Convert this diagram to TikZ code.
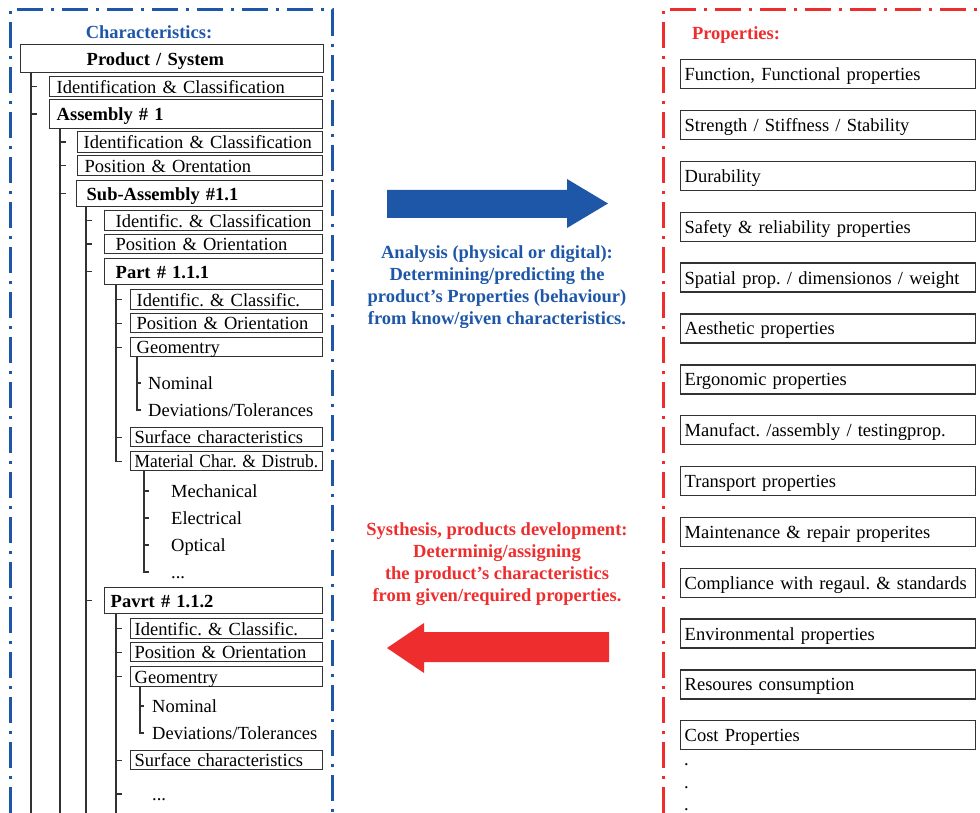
\documentclass[tikz,border=0pt]{standalone}
\usepackage{fontspec}
\setmainfont{Liberation Serif}
\usetikzlibrary{positioning}
\definecolor{charblue}{RGB}{31,87,168}
\definecolor{propred}{RGB}{238,46,46}
\definecolor{linegray}{RGB}{50,50,50}
\tikzset{
    % Frames
    frame/.style={line width=3pt, dash pattern=on 26pt off 8pt on 3pt off 8pt},
    %
    % Boxes
    one line/.style={execute at begin node=\hbox\bgroup, execute at end node=\egroup},
    box/.style={draw=linegray, line width=1.4pt, anchor=north west, align=left, one line,
        inner xsep=7pt, inner ysep=0pt, text height=15pt, text depth=2pt},
    char box/.style={box, text width=#1},
    main box/.style={char box=#1, font=\bfseries},
    prop box/.style={box, inner xsep=4pt, text width=287pt, minimum height=29pt},
    %
    % Arrows and captions
    caption/.style={align=center, font=\bfseries, text=#1}
}

\begin{document}
\fontsize{18.5pt}{22pt}\selectfont\frenchspacing
\begin{tikzpicture}
        [
            x=1pt, y=-1pt,
            leaf/.style={anchor=west, inner sep=0pt, text height=15pt, text depth=2pt},
            tree line/.style={linegray, line width=1.4pt}
        ]
        \useasboundingbox (0,0) rectangle (980,813);
        \coordinate (bottom) at (0,813);
        % frames
        \draw[frame, charblue] (10,813) -- (10,10) -- (332,10) -- (332,813);
        \draw[frame, propred] (663,813) -- (663,10) -- (980,10);
        \node[anchor=base, font=\bfseries, text=charblue] (char title) at (149,39) {Characteristics:};
        \node[anchor=base, font=\bfseries, text=propred] (prop title) at (736,40) {Properties:};
        %
        % characteristics tree
        \node[main box=289pt, minimum height=28pt] (ps) at (20,44) {\hspace*{59pt}Product / System};
        \node[char box=259pt, minimum height=20pt] (idc1) at (49,76) {Identification \& Classification};
        \node[main box=259pt, minimum height=29pt] (asm) at (49,99) {Assembly \# 1};
        \node[char box=233pt, inner xsep=6pt, minimum height=21pt] (idc2) at (77,131) {Identification \& Classification};
        \node[char box=231pt, minimum height=20pt] (pos1) at (77,155) {Position \& Orentation};
        \node[main box=226pt, inner xsep=10pt, minimum height=26pt] (sub) at (76,180) {Sub-Assembly \#1.1};
        \node[char box=196pt, inner xsep=11pt, minimum height=20pt] (idc3) at (104,210) {Identific. \& Classification};
        \node[char box=196pt, inner xsep=11pt, minimum height=19pt] (pos2) at (104,234) {Position \& Orientation};
        \node[main box=196pt, inner xsep=11pt, minimum height=26pt] (part1) at (104,258) {Part \# 1.1.1};
        \node[char box=180pt, inner xsep=6pt, minimum height=20pt] (ic1) at (130,289) {Identific. \& Classific.};
        \node[char box=180pt, inner xsep=6pt, minimum height=19pt] (pos3) at (130,313) {Position \& Orientation};
        \node[char box=180pt, inner xsep=6pt, minimum height=19pt] (geo1) at (130,337) {Geomentry};
        \node[leaf] (nom1) at (148,383) {Nominal};
        \node[leaf] (dev1) at (148,410) {Deviations/Tolerances};
        \node[char box=184pt, inner xsep=4pt, minimum height=19pt] (surf1) at (130,427) {Surface characteristics};
        \node[char box=184pt, inner xsep=4pt, minimum height=19pt] (mat1) at (130,451) {\scalebox{0.94}[1]{Material Char. \& Distrub.}};
        \node[leaf] (mech) at (171,491) {Mechanical};
        \node[leaf] (elec) at (171,518) {Electrical};
        \node[leaf] (opt) at (171,545) {Optical};
        \node[leaf] (more1) at (171,572) {...};
        \node[main box=206pt, inner xsep=6pt, minimum height=26pt] (part2) at (104,587) {Pavrt \# 1.1.2};
        \node[char box=184pt, inner xsep=4pt, minimum height=20pt] (ic2) at (130,618) {Identific. \& Classific.};
        \node[char box=184pt, inner xsep=4pt, minimum height=19pt] (pos4) at (130,642) {Position \& Orientation};
        \node[char box=184pt, inner xsep=4pt, minimum height=20pt] (geo2) at (130,666) {Geomentry};
        \node[leaf] (nom2) at (152,706) {Nominal};
        \node[leaf] (dev2) at (152,733) {Deviations/Tolerances};
        \node[char box=184pt, inner xsep=4pt, minimum height=19pt] (surf2) at (130,750) {Surface characteristics};
        \node[leaf] (more2) at (152,794) {...};
        %
        % trunks and ticks
        \coordinate (ps trunk) at ([xshift=11pt]ps.south west);
        \coordinate (asm trunk) at ([xshift=11pt]asm.south west);
        \coordinate (sub trunk) at ([xshift=10pt]sub.south west);
        \coordinate (part1 trunk) at ([xshift=12pt]part1.south west);
        \coordinate (geo1 trunk) at ([xshift=7pt]geo1.south west);
        \coordinate (mat1 trunk) at ([xshift=14pt]mat1.south west);
        \coordinate (part2 trunk) at ([xshift=12pt]part2.south west);
        \coordinate (geo2 trunk) at ([xshift=10pt]geo2.south west);
        \draw[tree line] (ps trunk) -- (ps trunk |- bottom);
        \foreach \c in {idc1,asm} \draw[tree line] (ps trunk |- \c.west) -- ++(6,0);
        \draw[tree line] (asm trunk) -- (asm trunk |- bottom);
        \foreach \c in {idc2,pos1,sub} \draw[tree line] (asm trunk |- \c.west) -- ++(6,0);
        \draw[tree line] (sub trunk) -- (sub trunk |- bottom);
        \foreach \c in {idc3,pos2,part1,part2} \draw[tree line] (sub trunk |- \c.west) -- ++(6,0);
        \draw[tree line] (part1 trunk) -- (part1 trunk |- mat1.west) -- ++(6,0);
        \foreach \c in {ic1,pos3,geo1,surf1} \draw[tree line] (part1 trunk |- \c.west) -- ++(6,0);
        \draw[tree line] (geo1 trunk) -- (geo1 trunk |- dev1.west) -- ++(4,0);
        \draw[tree line] (geo1 trunk |- nom1.west) -- ++(4,0);
        \draw[tree line] (mat1 trunk) -- (mat1 trunk |- more1.west) -- ++(5,0);
        \foreach \c in {mech,elec,opt} \draw[tree line] (mat1 trunk |- \c.west) -- ++(5,0);
        \draw[tree line] (part2 trunk) -- (part2 trunk |- bottom);
        \foreach \c in {ic2,pos4,geo2,surf2,more2} \draw[tree line] (part2 trunk |- \c.west) -- ++(6,0);
        \draw[tree line] (geo2 trunk) -- (geo2 trunk |- dev2.west) -- ++(4,0);
        \draw[tree line] (geo2 trunk |- nom2.west) -- ++(4,0);
        %
        % analysis and synthesis
        \fill[charblue] (387,190) -- (567,190) -- (567,179) -- (608,203.5) -- (567,228) -- (567,218) -- (387,218) -- cycle;
        \node[caption=charblue] (analysis) at (497,287) {Analysis (physical or digital):\\Determining/predicting the\\product's Properties (behaviour)\\from know/given characteristics.};
        \node[caption=propred] (synthesis) at (497,564) {Systhesis, products development:\\Determinig/assigning\\the product's characteristics\\from given/required properties.};
        \fill[propred] (609,632) -- (424,632) -- (424,623) -- (387,648) -- (424,673) -- (424,662) -- (609,662) -- cycle;
        %
        % properties
        \foreach \prop [count=\i] in {{Function, Functional properties}, Strength / Stiffness / Stability, Durability,
            Safety \& reliability properties, Spatial prop. / dimensionos / weight, Aesthetic properties,
            Ergonomic properties, Manufact. /assembly / testingprop., Transport properties,
            Maintenance \& repair properites, Compliance with regaul. \& standards, Environmental properties,
            Resoures consumption, Cost Properties}
            \node[prop box] (prop\i) at (680,{59+50.85*(\i-1)}) {\prop};
        \foreach \y [count=\i] in {759,782,804} \node[leaf] (dot\i) at (684,\y) {.};
    \end{tikzpicture}
\end{document}
